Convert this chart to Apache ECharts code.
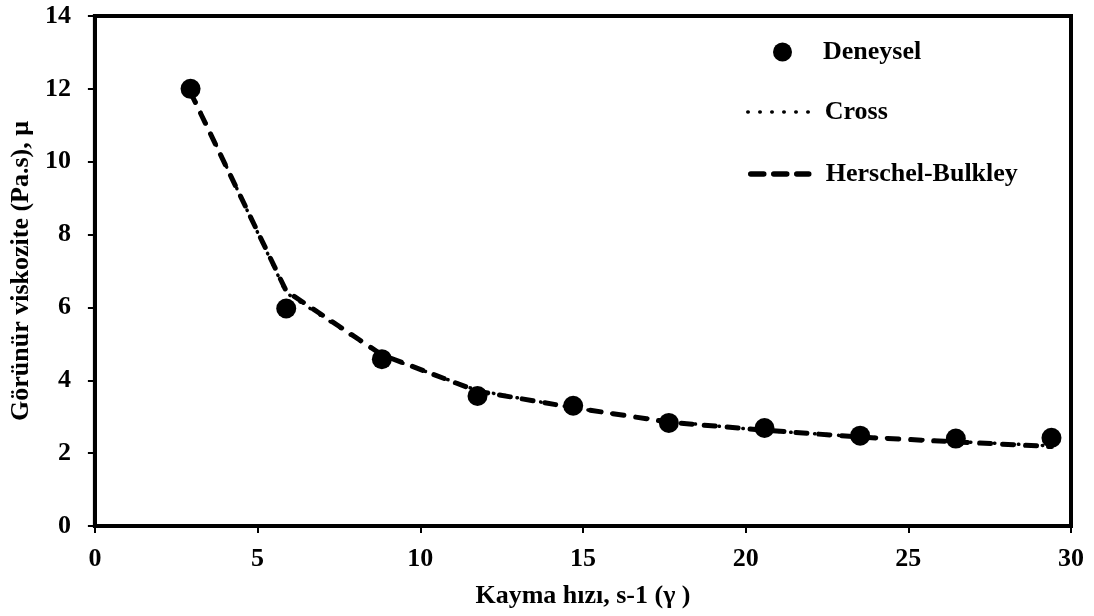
<!DOCTYPE html>
<html>
<head>
<meta charset="utf-8">
<script src="https://cdn.jsdelivr.net/npm/echarts@6/dist/echarts.min.js"></script>
<style>
  html, body { margin: 0; padding: 0; background: #fff; }
  #chart { width: 1094px; height: 616px; }
</style>
</head>
<body>
<div id="chart"></div>
<script>
// Shear rate (s-1) and apparent viscosity (Pa.s)
const shearRate = [2.94, 5.88, 8.82, 11.76, 14.7, 17.64, 20.58, 23.52, 26.46, 29.4];
const deneysel = [12.0, 5.97, 4.58, 3.57, 3.3, 2.83, 2.69, 2.48, 2.4, 2.42];
const cross = [11.95, 6.4, 4.68, 3.72, 3.24, 2.87, 2.62, 2.45, 2.32, 2.2];
const herschelBulkley = [11.9, 6.45, 4.7, 3.7, 3.25, 2.85, 2.63, 2.44, 2.31, 2.18];

const seriesNames = ['Deneysel', 'Cross', 'Herschel-Bulkley'];
const xAxisTitle = 'Kayma hızı, s-1 (γ )';
const yAxisTitle = 'Görünür viskozite (Pa.s), μ';

const pairs = (ys) => shearRate.map((x, i) => [x, ys[i]]);
const FONT = '"Liberation Serif", "Times New Roman", serif';
const TEXT = { fontFamily: FONT, fontWeight: 'bold', fontSize: 26, color: '#000' };

const crossLine = { color: '#000', width: 3.5, type: [0.5, 11.5], cap: 'round' };
const hbLine = { color: '#000', width: 5, type: [11, 12], cap: 'round' };

// one legend block per entry so each can have its own key size and line style
const legendBlock = (name, left, top, w, h, gap, lineStyle) => ({
  data: [{ name: name, itemStyle: name === seriesNames[0] ? {} : { opacity: 0 } }],
  orient: 'vertical',
  left: left,
  top: top,
  padding: 0,
  itemWidth: w,
  itemHeight: h,
  selectedMode: false,
  lineStyle: lineStyle || {},
  textStyle: Object.assign({}, TEXT, { padding: [0, 0, 0, gap] })
});

const chart = echarts.init(document.getElementById('chart'), null, { renderer: 'canvas' });
chart.setOption({
  backgroundColor: '#ffffff',
  animation: false,
  textStyle: { fontFamily: FONT },
  grid: {
    left: 92, right: 23, top: 16, bottom: 90,
    show: true, borderColor: '#000', borderWidth: 4, backgroundColor: 'transparent'
  },
  legend: [
    legendBlock(seriesNames[0], 773, 39, 19, 19, 26),
    legendBlock(seriesNames[1], 746, 99, 62, 26, 10,
      { color: '#000', width: 3.5, type: [0.5, 11.5], cap: 'round' }),
    legendBlock(seriesNames[2], 748, 161, 58, 26, 12,
      { color: '#000', width: 5.5, type: [13, 10], cap: 'round' })
  ],
  xAxis: {
    type: 'value',
    min: 0, max: 30, interval: 5,
    name: xAxisTitle,
    nameLocation: 'middle',
    nameGap: 57,
    nameTextStyle: TEXT,
    axisLine: { show: true, lineStyle: { color: '#000', width: 4 } },
    axisTick: { show: true, inside: false, length: 7, lineStyle: { color: '#000', width: 2 } },
    axisLabel: Object.assign({}, TEXT, { margin: 20 }),
    splitLine: { show: false }
  },
  yAxis: {
    type: 'value',
    min: 0, max: 14, interval: 2,
    name: yAxisTitle,
    nameLocation: 'middle',
    nameGap: 49,
    nameRotate: 90,
    nameTextStyle: TEXT,
    axisLine: { show: true, lineStyle: { color: '#000', width: 4 } },
    axisTick: { show: true, inside: false, length: 7, lineStyle: { color: '#000', width: 2 } },
    axisLabel: Object.assign({}, TEXT, { margin: 24 }),
    splitLine: { show: false }
  },
  series: [
    {
      name: seriesNames[1],
      type: 'line',
      data: pairs(cross),
      symbol: 'none',
      z: 2,
      lineStyle: crossLine,
      itemStyle: { color: '#000' }
    },
    {
      name: seriesNames[2],
      type: 'line',
      data: pairs(herschelBulkley),
      symbol: 'none',
      z: 3,
      lineStyle: hbLine,
      itemStyle: { color: '#000' }
    },
    {
      name: seriesNames[0],
      type: 'scatter',
      data: pairs(deneysel),
      symbol: 'circle',
      symbolSize: 20,
      z: 4,
      itemStyle: { color: '#000', opacity: 1 }
    }
  ]
});
</script>
</body>
</html>
